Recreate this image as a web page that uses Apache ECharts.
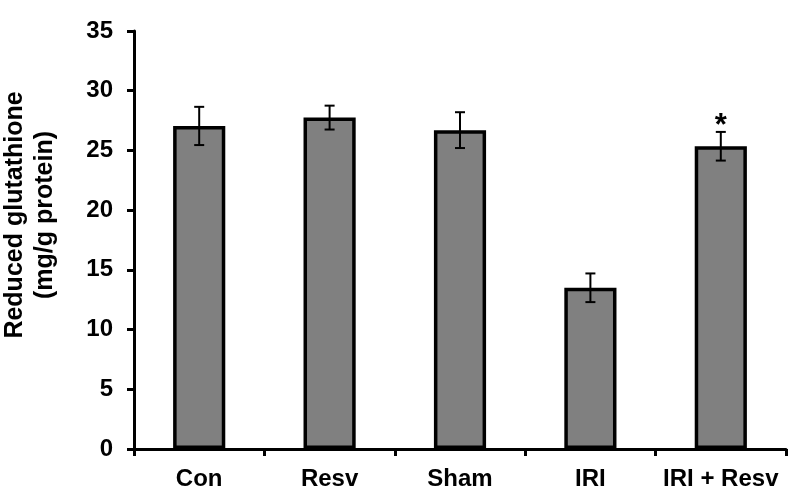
<!DOCTYPE html>
<html><head><meta charset="utf-8">
<script src="https://cdn.jsdelivr.net/npm/echarts@6/dist/echarts.min.js"></script>
<style>html,body{margin:0;padding:0;background:#fff}#c{width:789px;height:496px}</style>
</head><body><div id="c"></div>
<script>
const categories = ['Con', 'Resv', 'Sham', 'IRI', 'IRI + Resv'];
const means = [27.05, 27.75, 26.7, 13.5, 25.35];
const errors = [1.6, 1.0, 1.5, 1.2, 1.2];
const significance = ['', '', '', '', '*'];
const yTicks = [0, 5, 10, 15, 20, 25, 30, 35];
const yTitle = 'Reduced glutathione\n(mg/g protein)';

const FONT = '"Liberation Sans", Arial, sans-serif';
const chart = echarts.init(document.getElementById('c'));
chart.setOption({
  animation: false,
  grid: { left: 134, right: 3, top: 31, bottom: 47, containLabel: false },
  graphic: [{
    type: 'text', x: 30, y: 215, rotation: Math.PI / 2,
    style: { text: yTitle, textAlign: 'center', textVerticalAlign: 'middle',
      fill: '#000', font: 'bold 25px ' + FONT, lineHeight: 30 }
  }],
  xAxis: {
    type: 'category', data: categories,
    axisLine: { lineStyle: { color: '#000', width: 3 } },
    axisTick: { show: true, length: 7, lineStyle: { color: '#000', width: 3 } },
    axisLabel: { color: '#000', fontFamily: FONT, fontWeight: 'bold', fontSize: 24, margin: 18, interval: 0 }
  },
  yAxis: {
    type: 'value', min: yTicks[0], max: yTicks[yTicks.length - 1], interval: 5,
    splitLine: { show: false },
    axisLine: { show: true, lineStyle: { color: '#000', width: 3 } },
    axisTick: { show: true, length: 7, lineStyle: { color: '#000', width: 3 } },
    axisLabel: { color: '#000', fontFamily: FONT, fontWeight: 'bold', fontSize: 24, margin: 21 }
  },
  series: [
    {
      type: 'bar', data: means, barWidth: '40%',
      itemStyle: { color: '#808080', borderColor: '#000', borderWidth: 3.5 }
    },
    {
      type: 'custom',
      data: means.map((m, i) => [i, m - errors[i], m + errors[i]]),
      renderItem: function (params, api) {
        const i = api.value(0);
        const lo = api.coord([i, api.value(1)]);
        const hi = api.coord([i, api.value(2)]);
        const x = lo[0], hw = 5;
        const style = { stroke: '#000', lineWidth: 2 };
        const children = [
          { type: 'line', shape: { x1: x, y1: lo[1], x2: x, y2: hi[1] }, style },
          { type: 'line', shape: { x1: x - hw, y1: lo[1], x2: x + hw, y2: lo[1] }, style },
          { type: 'line', shape: { x1: x - hw, y1: hi[1], x2: x + hw, y2: hi[1] }, style }
        ];
        if (significance[i]) {
          children.push({ type: 'text', style: { text: significance[i], x: x, y: hi[1] - 5,
            textAlign: 'center', textVerticalAlign: 'middle', fill: '#000',
            font: 'bold 31px ' + FONT } });
        }
        return { type: 'group', children };
      },
      z: 5
    }
  ]
});
</script></body></html>
